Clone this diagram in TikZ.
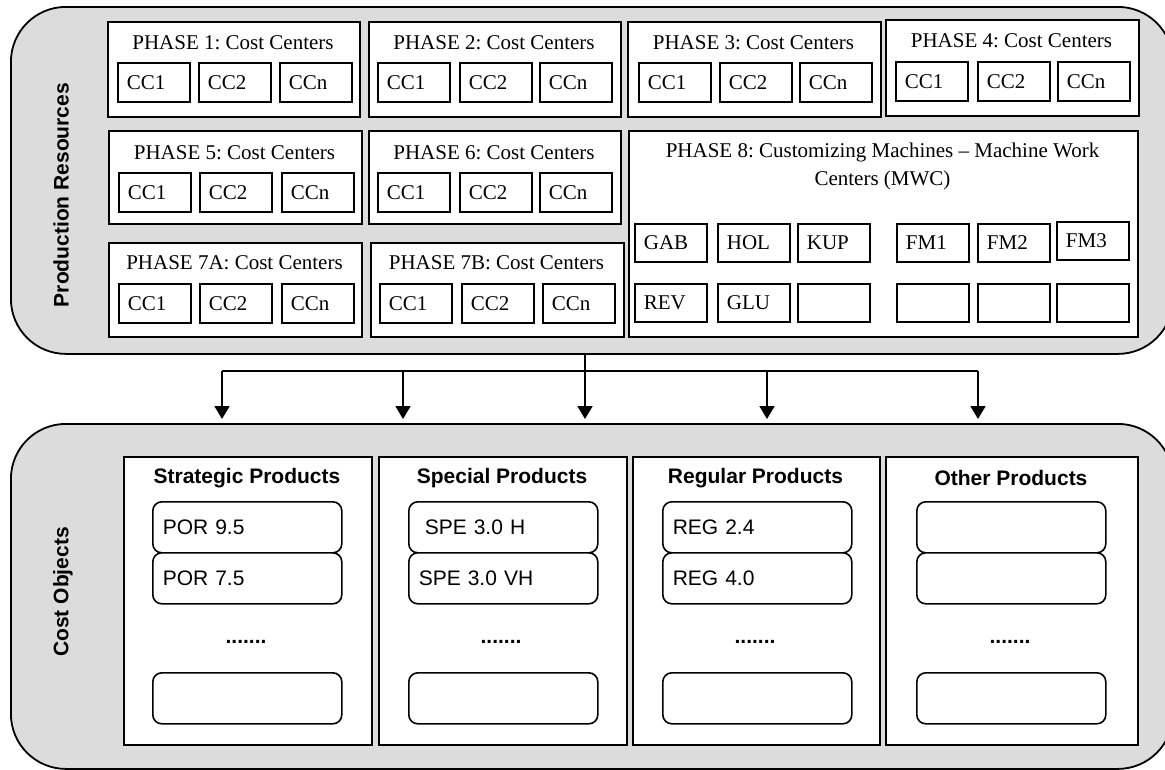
\documentclass[tikz,border=0pt]{standalone}
\usepackage{fontspec}
\setmainfont{Liberation Serif}
\setsansfont{Liberation Sans}
\usetikzlibrary{arrows.meta}
\frenchspacing
\definecolor{panelgray}{HTML}{DCDCDC}
\tikzset{
  x=1pt, y=-1pt,
  outer/.style={draw, line width=1.8pt, fill=panelgray, rounded corners=55, anchor=north west, inner sep=0},
  phase/.style={draw, line width=1.8pt, fill=white, anchor=north west, inner sep=0},
  ccbox/.style={draw, line width=1.8pt, fill=white, anchor=north west, minimum width=72, minimum height=39, text width=54, inner xsep=9, inner ysep=0, align=left, font=\fontsize{21}{25}\selectfont},
  ptitle/.style={font=\fontsize{21}{28}\selectfont, align=center, inner sep=0},
  prod/.style={draw, line width=1.8pt, fill=white, anchor=north west, inner sep=0},
  prtitle/.style={font=\sffamily\bfseries\fontsize{21}{25}\selectfont, inner sep=0},
  item/.style={draw, line width=1.6pt, fill=white, rounded corners=9, anchor=north west, minimum width=189, minimum height=51, text width=169, inner xsep=10, inner ysep=0, align=left, font=\sffamily\fontsize{21}{25}\selectfont},
  dots/.style={font=\sffamily\bfseries\fontsize{21}{25}\selectfont, anchor=base, inner sep=0},
  side/.style={rotate=90, font=\sffamily\bfseries\fontsize{21}{25}\selectfont, inner sep=0},
  link/.style={line width=1.8pt},
  arr/.style={line width=1.8pt, -{Triangle[width=15pt,length=13pt]}, shorten >=4pt},
}
\begin{document}
\begin{tikzpicture}
\useasboundingbox (0,0) rectangle (1165,769);
% outer panels
\node[outer, minimum width=1162, minimum height=347] (res) at (10,6) {};
\node[outer, minimum width=1162, minimum height=345] (obj) at (10,423) {};
\node[side] (reslab) at (61,195) {Production Resources};
\node[side] (objlab) at (63,592) {Cost Objects};

% phase boxes
\node[phase, minimum width=252, minimum height=95] (p1) at (107,21) {};
\node[phase, minimum width=252, minimum height=95] (p2) at (368,21) {};
\node[phase, minimum width=253, minimum height=95] (p3) at (627,21) {};
\node[phase, minimum width=253, minimum height=96] (p4) at (885,19) {};
\node[phase, minimum width=253, minimum height=93] (p5) at (108,130) {};
\node[phase, minimum width=252, minimum height=93] (p6) at (368,130) {};
\node[phase, minimum width=253, minimum height=94] (p7a) at (108,242) {};
\node[phase, minimum width=253, minimum height=94] (p7b) at (370,242) {};
\node[phase, minimum width=509, minimum height=206] (p8) at (628,130) {};

\node[ptitle] (t1) at (233,43) {PHASE 1: Cost Centers};
\node[ptitle] (t2) at (494,43) {PHASE 2: Cost Centers};
\node[ptitle] (t3) at (753.5,43) {PHASE 3: Cost Centers};
\node[ptitle] (t4) at (1011.5,41) {PHASE 4: Cost Centers};
\node[ptitle] (t5) at (234.5,153) {PHASE 5: Cost Centers};
\node[ptitle] (t6) at (494,153) {PHASE 6: Cost Centers};
\node[ptitle] (t7a) at (234.5,263) {PHASE 7A: Cost Centers};
\node[ptitle] (t7b) at (496.5,263) {PHASE 7B: Cost Centers};
\node[ptitle] (t8) at (882.5,166) {PHASE 8: Customizing Machines -- Machine Work\\Centers (MWC)};

% cost centers
\node[ccbox] (p1a) at (117,62) {CC1};
\node[ccbox] (p1b) at (198,62) {CC2};
\node[ccbox] (p1c) at (279,62) {CCn};
\node[ccbox] (p2a) at (377,62) {CC1};
\node[ccbox] (p2b) at (459,62) {CC2};
\node[ccbox] (p2c) at (539,62) {CCn};
\node[ccbox] (p3a) at (638,62) {CC1};
\node[ccbox] (p3b) at (719,62) {CC2};
\node[ccbox] (p3c) at (799,62) {CCn};
\node[ccbox] (p4a) at (895,61) {CC1};
\node[ccbox] (p4b) at (977,61) {CC2};
\node[ccbox] (p4c) at (1057,61) {CCn};
\node[ccbox] (p5a) at (118,172) {CC1};
\node[ccbox] (p5b) at (199,172) {CC2};
\node[ccbox] (p5c) at (281,172) {CCn};
\node[ccbox] (p6a) at (377,172) {CC1};
\node[ccbox] (p6b) at (459,172) {CC2};
\node[ccbox] (p6c) at (539,172) {CCn};
\node[ccbox] (p7aa) at (118,283) {CC1};
\node[ccbox] (p7ab) at (199,283) {CC2};
\node[ccbox] (p7ac) at (281,283) {CCn};
\node[ccbox] (p7ba) at (379,283) {CC1};
\node[ccbox] (p7bb) at (461,283) {CC2};
\node[ccbox] (p7bc) at (542,283) {CCn};

% machine work centers
\node[ccbox, minimum height=38] (gab) at (634,223) {GAB};
\node[ccbox, minimum height=38] (hol) at (717,223) {HOL};
\node[ccbox, minimum height=38] (kup) at (797,223) {KUP};
\node[ccbox, minimum height=38] (fm1) at (896,223) {FM1};
\node[ccbox, minimum height=38] (fm2) at (977,223) {FM2};
\node[ccbox, minimum height=38] (fm3) at (1056,221) {FM3};
\node[ccbox, minimum height=38] (rev) at (634,283) {REV};
\node[ccbox, minimum height=38] (glu) at (717,283) {GLU};
\node[ccbox, minimum height=38] (m3) at (797,283) {};
\node[ccbox, minimum height=38] (m4) at (896,283) {};
\node[ccbox, minimum height=38] (m5) at (977,283) {};
\node[ccbox, minimum height=38] (m6) at (1056,283) {};

% connectors
\coordinate (hub) at (585,371);
\coordinate (a1) at (222,371);
\coordinate (a2) at (403,371);
\coordinate (a4) at (767,371);
\coordinate (a5) at (978,371);
\draw[link] (hub |- res.south) -- (hub);
\draw[link] (a1) -- (a5);
\draw[arr] (a1) -- (a1 |- obj.north);
\draw[arr] (a2) -- (a2 |- obj.north);
\draw[arr] (hub) -- (hub |- obj.north);
\draw[arr] (a4) -- (a4 |- obj.north);
\draw[arr] (a5) -- (a5 |- obj.north);

% product panels
\node[prod, minimum width=248, minimum height=288] (q1) at (123,456) {};
\node[prod, minimum width=248, minimum height=288] (q2) at (378,456) {};
\node[prod, minimum width=247, minimum height=288] (q3) at (632,456) {};
\node[prod, minimum width=252, minimum height=288] (q4) at (885,456) {};

\node[prtitle] (q1t) at (247,478) {Strategic Products};
\node[prtitle] (q2t) at (502,478) {Special Products};
\node[prtitle] (q3t) at (755.5,478) {Regular Products};
\node[prtitle] (q4t) at (1011,478) {Other Products};

\node[item] (q1a) at (152,501) {POR 9.5};
\node[item] (q1b) at (152,552) {POR 7.5};
\node[item] (q1c) at (152,672) {};
\node[item] (q2a) at (408,501) {\hspace*{6pt}SPE 3.0 H};
\node[item] (q2b) at (408,552) {SPE 3.0 VH};
\node[item] (q2c) at (408,672) {};
\node[item] (q3a) at (662,501) {REG 2.4};
\node[item] (q3b) at (662,552) {REG 4.0};
\node[item] (q3c) at (662,672) {};
\node[item] (q4a) at (916,501) {};
\node[item] (q4b) at (916,552) {};
\node[item] (q4c) at (916,672) {};

\node[dots] (q1d) at (246,643) {.......};
\node[dots] (q2d) at (501,643) {.......};
\node[dots] (q3d) at (755,643) {.......};
\node[dots] (q4d) at (1010,643) {.......};
\end{tikzpicture}
\end{document}
